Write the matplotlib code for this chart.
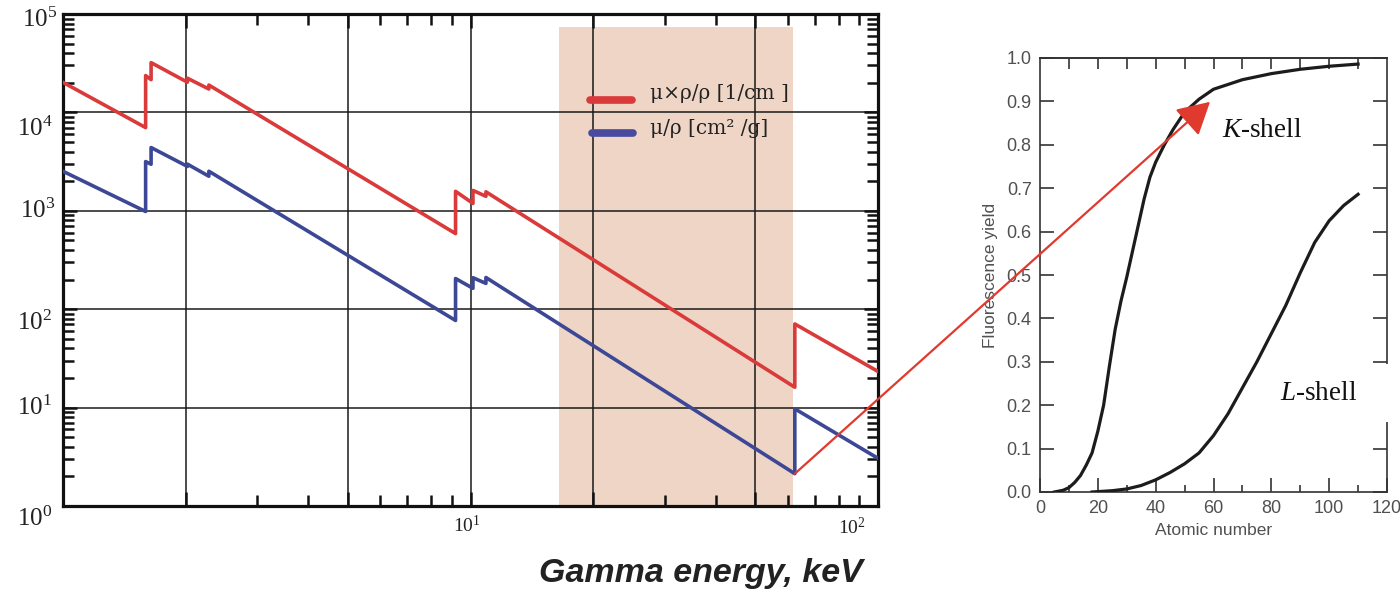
import matplotlib
matplotlib.use("Agg")
import matplotlib.pyplot as plt
import numpy as np
from matplotlib.patches import ConnectionPatch, Rectangle
from matplotlib.ticker import FixedLocator, NullFormatter

plt.rcParams["mathtext.fontset"] = "custom"
plt.rcParams["mathtext.rm"] = "Liberation Serif"
plt.rcParams["mathtext.it"] = "Liberation Serif:italic"
plt.rcParams["mathtext.bf"] = "Liberation Serif:bold"

# ---- attenuation vs gamma energy (absorption edges drawn as vertical jumps) ----
energy_kev = [1.0, 1.595, 1.595, 1.645, 1.645, 2.02, 2.02, 2.28, 2.28,
              9.19, 9.19, 10.14, 10.14, 10.91, 10.91, 62.5, 62.5, 100.0]
mu_linear = [20200, 7010, 23650, 21530, 32050, 20270, 22250, 17280, 18970,
             587, 1578, 1189, 1611, 1404, 1560, 16.1, 70.8, 23.3]
mu_mass = [2520, 984, 3165, 2972, 4395, 2824, 2980, 2245, 2524,
           76.8, 205, 163, 209, 183, 210, 2.13, 9.72, 3.05]
k_edge_index = 15
window_kev = (16.5, 61.7)
legend_labels = ["μ×ρ/ρ [1/cm ]", "μ/ρ [cm² /g]"]
y_exponents = [0, 1, 2, 3, 4, 5]
x_exponents = [1, 2]

# ---- fluorescence yield vs atomic number ----
z_k = [5, 8, 10, 12, 14, 16, 18, 20, 22, 24, 26, 28, 30, 32, 34, 36, 38, 40,
       43, 46, 50, 55, 60, 70, 80, 90, 100, 110]
omega_k = [0.0, 0.004, 0.01, 0.022, 0.038, 0.062, 0.09, 0.14, 0.20, 0.29,
           0.375, 0.44, 0.495, 0.555, 0.615, 0.675, 0.725, 0.76, 0.80, 0.835,
           0.875, 0.905, 0.928, 0.95, 0.964, 0.974, 0.981, 0.986]
z_l = [18, 25, 30, 35, 40, 45, 50, 55, 60, 65, 70, 75, 80, 85, 90, 95, 100,
       105, 110]
omega_l = [0.0, 0.003, 0.007, 0.015, 0.028, 0.045, 0.065, 0.09, 0.13, 0.18,
           0.24, 0.30, 0.365, 0.43, 0.505, 0.575, 0.625, 0.66, 0.686]
shell_labels = ["$K$-shell", "$L$-shell"]

RED = "#DA3A3A"
BLUE = "#3C4896"
W, H = 1400, 599


def box(left, top, right, bottom):
    return [left / W, 1 - bottom / H, (right - left) / W, (bottom - top) / H]


fig = plt.figure(figsize=(W / 100, H / 100), dpi=100)
fig.patch.set_facecolor("white")

# ================= left panel =================
ax = fig.add_axes(box(63, 14, 878, 506))
ax.set_xscale("log")
ax.set_yscale("log")
ax.set_xlim(1, 100)
ax.set_ylim(1, 1e5)

ax.axvspan(*window_kev, ymin=0, ymax=0.973, color="#EED5C6", lw=0, zorder=0)

ax.xaxis.set_major_locator(FixedLocator([2, 5, 10, 20, 50]))
ax.xaxis.set_minor_locator(FixedLocator([3, 4, 6, 7, 8, 9, 30, 40, 60, 70, 80, 90]))
ax.yaxis.set_major_locator(FixedLocator([10, 100, 1000, 1e4]))
ax.yaxis.set_minor_locator(FixedLocator(
    [m * 10 ** e for e in range(0, 5) for m in range(2, 10)]))
for axis in (ax.xaxis, ax.yaxis):
    axis.set_major_formatter(NullFormatter())
    axis.set_minor_formatter(NullFormatter())
ax.grid(True, which="major", color="#1a1a1a", lw=1.1, zorder=1)
ax.set_axisbelow(True)
ax.tick_params(which="both", direction="in", top=True, right=True,
               color="#111111", width=1.8)
ax.tick_params(which="major", length=10)
ax.tick_params(which="minor", length=8)
for s in ax.spines.values():
    s.set_linewidth(2.3)
    s.set_color("#111111")

ax.plot(energy_kev, mu_linear, color=RED, lw=2.6, zorder=3)
ax.plot(energy_kev, mu_mass, color=BLUE, lw=2.6, zorder=3)

# legend drawn as swatches + labels
for (x0, x1, yy), col in zip([(0.647, 0.698, 0.826), (0.649, 0.699, 0.758)],
                             [RED, "#474A9E"]):
    ax.plot([x0, x1], [yy, yy], transform=ax.transAxes, color=col, lw=5.5,
            solid_capstyle="round", zorder=4)
for yy, lab in zip([0.839, 0.768], legend_labels):
    ax.text(0.720, yy, lab, transform=ax.transAxes, ha="left", va="center",
            family="DejaVu Serif", fontsize=14.5, color="#222222", zorder=4)

# decade labels
y_offsets = {0: (-46, -13), 1: (-46, 0), 2: (-46, -14), 3: (-43, 0),
             4: (-46, -16), 5: (-41, -6)}
for k in y_exponents:
    if k == 0:
        continue
    dx, dy = y_offsets[k]
    ax.annotate(f"$10^{{{k}}}$", xy=(0, 10 ** k),
                xycoords=ax.get_yaxis_transform(), xytext=(dx, dy),
                textcoords="offset pixels", ha="left", va="center",
                fontsize=18, color="#222222", annotation_clip=False)
dx, dy = y_offsets[0]
ax.annotate("$10^{0}$", xy=(1, 1), xycoords="data", xytext=(dx, dy),
            textcoords="offset pixels", ha="left", va="center", fontsize=18,
            color="#222222", annotation_clip=False)
x_offsets = {1: (-18, -20), 2: (-40, -22)}
for k in x_exponents:
    dx, dy = x_offsets[k]
    ax.annotate(f"$10^{{{k}}}$", xy=(10 ** k, 0),
                xycoords=ax.get_xaxis_transform(), xytext=(dx, dy),
                textcoords="offset pixels", ha="left", va="center",
                fontsize=14, color="#222222", annotation_clip=False)

fig.text(701 / W, 17 / H, "Gamma energy, keV", ha="center", va="baseline",
         fontsize=24.5, fontweight="bold", fontstyle="italic",
         family="Liberation Sans", color="#222222")

# ================= right panel =================
GRAY = "#505050"
ax2 = fig.add_axes(box(1040, 58, 1387, 492))
ax2.set_xlim(0, 120)
ax2.set_ylim(0, 1)
ax2.set_xticks(np.arange(0, 121, 20))
ax2.set_xticks(np.arange(10, 120, 20), minor=True)
ax2.set_yticks(np.round(np.arange(0, 1.01, 0.1), 1))
ax2.set_yticklabels([f"{v:.1f}" for v in np.arange(0, 1.01, 0.1)])
for lab in ax2.get_xticklabels() + ax2.get_yticklabels():
    lab.set_family("Liberation Sans")
ax2.tick_params(which="both", direction="in", right=True, color="#333333",
                width=1.2, labelsize=13, labelcolor=GRAY, pad=6)
ax2.tick_params(which="major", length=10)
ax2.tick_params(which="minor", length=5)
top = ax2.secondary_xaxis("top")
top.set_xticks(np.arange(10, 120, 10))
top.tick_params(direction="in", length=8, width=1.2, color="#333333",
                labeltop=False)
for s in list(ax2.spines.values()) + [top.spines["top"]]:
    s.set_linewidth(1.2)
    s.set_color("#333333")

ax2.plot(z_k, omega_k, color="#1c1c1c", lw=2.3, zorder=3)
ax2.plot(z_l, omega_l, color="#1c1c1c", lw=2.3, zorder=3)

ax2.set_xlabel("Atomic number", fontsize=12.5, color=GRAY,
               family="Liberation Sans", labelpad=4)
ax2.set_ylabel("Fluorescence yield", fontsize=12.5, color=GRAY,
               family="Liberation Sans", labelpad=6)

ax2.add_patch(Rectangle((80.2, 0.161), 41.5, 0.134, facecolor="white",
                        edgecolor="none", clip_on=False, zorder=2.6))
ax2.text(62.9, 0.832, shell_labels[0], ha="left", va="center", fontsize=19.5,
         family="Liberation Serif", color="#111111", zorder=4)
ax2.text(83.0, 0.228, shell_labels[1], ha="left", va="center", fontsize=19.5,
         family="Liberation Serif", color="#111111", zorder=4)

# arrow from the K-edge to the K-shell yield curve
con = ConnectionPatch(xyA=(energy_kev[k_edge_index], mu_mass[k_edge_index]),
                      coordsA=ax.transData, xyB=(58.8, 0.899),
                      coordsB=ax2.transData,
                      arrowstyle="-|>,head_length=0.9,head_width=0.5",
                      mutation_scale=22, color="#E0392E", lw=1.6, zorder=10)
fig.add_artist(con)

fig.savefig("out.png", dpi=100, facecolor="white")
